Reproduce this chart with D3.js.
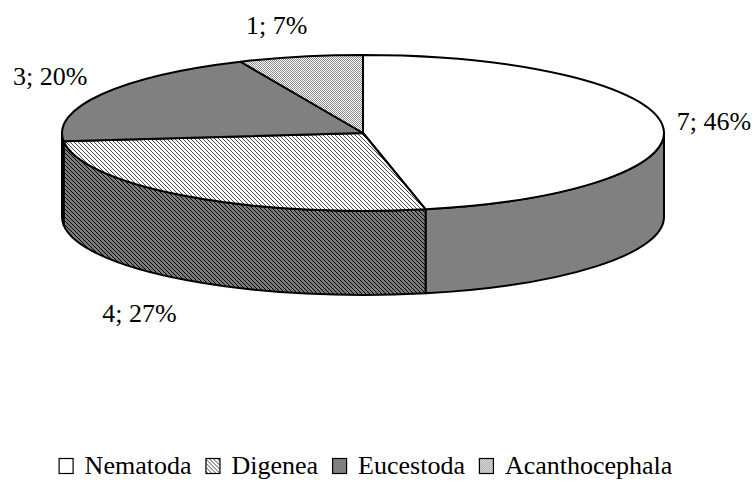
<!DOCTYPE html>
<html>
<head>
<meta charset="utf-8">
<script src="https://cdn.jsdelivr.net/npm/d3@7"></script>
<style>
  html, body { margin: 0; padding: 0; background: #ffffff; }
  svg { display: block; }
  text { font-family: "Liberation Serif", "Times New Roman", serif; fill: #000; }
</style>
</head>
<body>
<svg id="chart" width="755" height="482"></svg>
<script>
// Parasite groups and their counts
const categories = ["Nematoda", "Digenea", "Eucestoda", "Acanthocephala"];
const counts = [7, 4, 3, 1];
const percentLabels = ["46%", "27%", "20%", "7%"];

const W = 755, H = 482;
const svg = d3.select("#chart");
const defs = svg.append("defs");

// --- fill patterns (dither / hatch, like classic office chart fills) ---
function pixelPattern(id, size, bg, fg, pixels) {
  const p = defs.append("pattern")
    .attr("id", id).attr("patternUnits", "userSpaceOnUse")
    .attr("width", size).attr("height", size);
  p.append("rect").attr("width", size).attr("height", size).attr("fill", bg);
  pixels.forEach(([x, y]) => p.append("rect")
    .attr("x", x).attr("y", y).attr("width", 1).attr("height", 1)
    .attr("fill", fg).attr("shape-rendering", "crispEdges"));
}
// light diagonal hatch
pixelPattern("hatchLight", 4, "#ffffff", "#4a4a4a", [[0,0],[1,1],[2,2],[3,3]]);
// dark diagonal hatch for the wall
pixelPattern("hatchDark", 4, "#7c7c7c", "#000000", [[0,0],[1,1],[2,2],[3,3]]);
// fine checker dots
pixelPattern("dots", 2, "#ffffff", "#8c8c8c", [[0,0],[1,1]]);

const topFill  = ["#ffffff", "url(#hatchLight)", "#808080", "url(#dots)"];
const sideFill = ["#808080", "url(#hatchDark)", "#404040", "#7a7a7a"];

// --- geometry of the tilted pie ---
const cx = 363, cy = 133, rx = 301, ry = 78, depth = 84;
const pt = (a, dz = 0) => [cx + rx * Math.sin(a), cy - ry * Math.cos(a) + dz];

const arcs = d3.pie().sort(null).value(d => d)(counts);

const g = svg.append("g");

// side walls (only the front half, angles between 90° and 270°, is visible)
arcs.forEach((d, i) => {
  const s0 = Math.max(d.startAngle, Math.PI / 2);
  const s1 = Math.min(d.endAngle, 3 * Math.PI / 2);
  if (s1 <= s0) return;
  const p0 = pt(s0), p1 = pt(s1), q1 = pt(s1, depth), q0 = pt(s0, depth);
  const path = `M${p0}A${rx},${ry} 0 0 1 ${p1}L${q1}A${rx},${ry} 0 0 0 ${q0}Z`;
  g.append("path").attr("d", path)
    .attr("fill", sideFill[i])
    .attr("stroke", "#000").attr("stroke-width", 2)
    .attr("stroke-linejoin", "round");
});

// top faces
arcs.forEach((d, i) => {
  const p0 = pt(d.startAngle), p1 = pt(d.endAngle);
  const large = d.endAngle - d.startAngle > Math.PI ? 1 : 0;
  const path = `M${cx},${cy}L${p0}A${rx},${ry} 0 ${large} 1 ${p1}Z`;
  g.append("path").attr("d", path)
    .attr("fill", topFill[i])
    .attr("stroke", "#000").attr("stroke-width", 2)
    .attr("stroke-linejoin", "round");
});

// --- data labels "count; percent" placed outside each slice ---
const labelNudge = [[0, 0], [2, 4], [-7, 0], [-13, 4]];
arcs.forEach((d, i) => {
  const a = (d.startAngle + d.endAngle) / 2;
  const front = Math.cos(a) < 0;
  const [ex, ey] = pt(a, front ? depth : 0);
  const lx = ex + Math.sin(a) * 52 - (front ? 18 : 0) + labelNudge[i][0];
  const ly = ey - Math.cos(a) * 36 + labelNudge[i][1];
  svg.append("text")
    .attr("x", lx).attr("y", ly)
    .attr("text-anchor", "middle")
    .attr("dominant-baseline", "central")
    .attr("font-size", 26)
    .text(`${counts[i]}; ${percentLabels[i]}`);
});

// --- legend along the bottom, centred ---
const legend = svg.append("g");
const box = 15, gapText = 11, gapItem = 14, baseline = 474;
let x = 0;
categories.forEach((c, i) => {
  legend.append("rect")
    .attr("x", x + 0.5).attr("y", baseline - box - 0.5)
    .attr("width", box - 1).attr("height", box)
    .attr("fill", topFill[i])
    .attr("stroke", "#000").attr("stroke-width", 1.2);
  x += box + gapText;
  const t = legend.append("text")
    .attr("x", x).attr("y", baseline)
    .attr("font-size", 26)
    .text(c);
  x += t.node().getComputedTextLength() + gapItem;
});
const total = x - gapItem;
legend.attr("transform", `translate(${(W - total) / 2 - 12},0)`);
</script>
</body>
</html>
